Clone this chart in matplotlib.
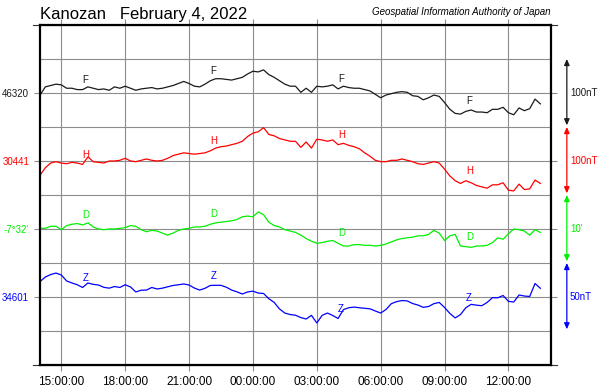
import matplotlib
matplotlib.use('Agg')
import matplotlib.pyplot as plt
import matplotlib.dates as mdates
import matplotlib.transforms as mtransforms
import pandas as pd

plt.rcParams['font.family'] = ['Liberation Sans', 'DejaVu Sans']

station = 'Kanozan'
day_title = 'February 4, 2022'
source = 'Geospatial Information Authority of Japan'

# 15 minute samples, 2022-02-03 14:00 .. 2022-02-04 13:30
times = pd.date_range('2022-02-03 14:00', periods=95, freq='15min')

# total force (nT)
F = [46317, 46329, 46331, 46333, 46332, 46327, 46327, 46325, 46325, 46329,
     46327, 46325, 46326, 46324, 46329, 46327, 46330, 46327, 46324, 46326,
     46327, 46328, 46326, 46327, 46329, 46331, 46334, 46337, 46334, 46330,
     46329, 46333, 46338, 46341, 46341, 46340, 46339, 46341, 46343, 46348,
     46352, 46351, 46354, 46347, 46343, 46338, 46333, 46330, 46330, 46321,
     46327, 46321, 46330, 46329, 46330, 46332, 46326, 46330, 46328, 46327,
     46327, 46325, 46323, 46318, 46313, 46317, 46319, 46321, 46322, 46321,
     46316, 46315, 46310, 46313, 46317, 46315, 46306, 46296, 46290, 46289,
     46293, 46295, 46292, 46292, 46291, 46296, 46296, 46299, 46291, 46288,
     46298, 46294, 46297, 46311, 46304]

# horizontal component (nT)
H = [30420, 30431, 30438, 30440, 30438, 30437, 30439, 30438, 30436, 30447,
     30440, 30439, 30438, 30441, 30441, 30442, 30445, 30441, 30440, 30442,
     30444, 30442, 30441, 30442, 30445, 30449, 30451, 30453, 30452, 30451,
     30452, 30453, 30456, 30460, 30462, 30463, 30465, 30467, 30470, 30477,
     30482, 30484, 30490, 30480, 30478, 30474, 30472, 30470, 30470, 30461,
     30469, 30460, 30473, 30472, 30470, 30472, 30465, 30467, 30464, 30462,
     30459, 30453, 30448, 30442, 30440, 30440, 30442, 30442, 30444, 30442,
     30440, 30437, 30436, 30438, 30440, 30438, 30429, 30419, 30412, 30408,
     30412, 30409, 30405, 30403, 30401, 30406, 30406, 30409, 30398, 30397,
     30407, 30399, 30400, 30413, 30408]

# declination (arc minutes, -7deg32' = -452')
D = [-451.9, -451.9, -451.6, -451.6, -452.1, -451.5, -451.3, -451.2, -451.4, -451.1,
     -451.7, -452.0, -452.1, -452.0, -452.0, -451.9, -451.8, -451.5, -451.6, -452.1,
     -452.4, -452.2, -452.3, -452.6, -452.9, -452.6, -452.2, -452.0, -451.9, -451.7,
     -451.7, -451.6, -451.3, -451.1, -451.0, -450.9, -450.8, -450.6, -450.2, -450.1,
     -450.2, -449.5, -449.9, -451.0, -451.5, -451.7, -452.1, -452.3, -452.5, -452.9,
     -453.4, -453.8, -454.1, -454.0, -453.8, -453.7, -454.1, -454.5, -454.5, -454.3,
     -454.3, -454.4, -454.4, -454.5, -454.4, -454.2, -453.9, -453.6, -453.4, -453.3,
     -453.2, -453.0, -453.0, -452.8, -452.2, -452.6, -453.7, -453.0, -452.8, -454.5,
     -454.6, -454.7, -454.5, -454.5, -454.4, -454.0, -453.3, -453.5, -452.7, -452.0,
     -452.1, -452.3, -452.9, -452.1, -452.5]

# vertical component (nT)
Z = [34612.3, 34615.7, 34617.5, 34618.6, 34617.2, 34612.8, 34611.3, 34610.0, 34608.0, 34611.3,
     34610.3, 34609.8, 34608.1, 34607.5, 34608.7, 34608.0, 34610.0, 34608.4, 34604.7, 34606.0,
     34606.1, 34608.0, 34606.9, 34607.5, 34608.5, 34609.5, 34610.0, 34610.6, 34609.8, 34607.6,
     34606.1, 34607.4, 34609.5, 34609.6, 34609.6, 34608.2, 34606.1, 34604.8, 34603.2, 34604.7,
     34605.3, 34603.9, 34603.6, 34599.7, 34597.0, 34592.2, 34589.2, 34588.1, 34587.6, 34585.9,
     34584.8, 34587.5, 34581.9, 34587.5, 34589.2, 34587.4, 34585.2, 34591.7, 34593.1, 34593.6,
     34593.1, 34592.7, 34592.3, 34590.7, 34589.2, 34591.8, 34596.1, 34597.6, 34598.4, 34598.1,
     34596.2, 34595.1, 34593.4, 34594.0, 34596.1, 34597.0, 34593.3, 34588.9, 34585.6, 34588.1,
     34593.1, 34595.6, 34595.0, 34594.6, 34597.0, 34600.5, 34600.4, 34602.1, 34597.8, 34597.3,
     34602.5, 34601.7, 34601.4, 34610.9, 34607.4]

names = ['F', 'H', 'D', 'Z']
series = [F, H, D, Z]
baselines = [46320, 30441, -452, 34601]
base_labels = ['46320', '30441', "-7\u00b032'", '34601']
full_scale = [100, 100, 10, 50]          # value spanned by two grid rows
scale_labels = ['100nT', '100nT', "10'", '50nT']
colors = ['#1a1a1a', '#ff0000', '#00f000', '#0000ff']
centers = [8, 6, 4, 2]                   # grid row of each baseline

label_times = pd.to_datetime(['2022-02-03 16:00', '2022-02-03 22:00',
                              '2022-02-04 04:00', '2022-02-04 10:00'])
tick_times = pd.date_range('2022-02-03 15:00', periods=8, freq='3h')

fig = plt.figure(figsize=(6.0, 3.91), dpi=100)
ax = fig.add_axes([40 / 600, 26 / 391, 511 / 600, 340 / 391])

grid_col = '#8c8c8c'
ax.set_xlim(pd.Timestamp('2022-02-03 14:00'), pd.Timestamp('2022-02-04 14:00'))
ax.set_ylim(0, 10)
ax.set_xticks(tick_times)
ax.xaxis.set_major_formatter(mdates.DateFormatter('%H:%M:%S'))
ax.set_yticks(centers, labels=base_labels)
ax.set_yticks([1, 3, 5, 7, 9], minor=True)
ax.set_axisbelow(True)
ax.xaxis.grid(True, which='major', color=grid_col, lw=0.8)
ax.yaxis.grid(True, which='both', color=grid_col, lw=0.8)
ax.tick_params(which='major', direction='out', length=4.3, width=0.8, color=grid_col,
               top=True, right=True)
ax.tick_params(which='minor', length=0)
ax.tick_params(axis='x', labelsize=8.5, pad=3.5)
ax.tick_params(axis='y', labelsize=7, pad=3.5)
for lab, c in zip(ax.get_yticklabels(), colors):
    lab.set_color(c)
for sp in ax.spines.values():
    sp.set_linewidth(1.6)
    sp.set_color('black')

# thin extensions of the top and bottom frame lines
for yy in (0, 1):
    ax.plot([-7 / 511, 1 + 6 / 511], [yy, yy], transform=ax.transAxes,
            color='#333333', lw=0.8, clip_on=False)

xy_trans = mtransforms.blended_transform_factory(ax.transAxes, ax.transData)

for name, vals, base, span, col, cen, slab in zip(names, series, baselines, full_scale,
                                                 colors, centers, scale_labels):
    y = [cen + (v - base) * 2.0 / span for v in vals]
    ax.plot(times, y, color=col, lw=0.9)
    for t in label_times:
        i = times.get_loc(t)
        ax.annotate(name, (times[i], y[i]), xytext=(0, 3.5), textcoords='offset points',
                    ha='left', va='bottom', fontsize=7, color=col)
    ax.annotate('', xy=(1.031, cen + 1.0), xytext=(1.031, cen - 0.95), xycoords=xy_trans,
                textcoords=xy_trans, annotation_clip=False,
                arrowprops=dict(arrowstyle='<|-|>,head_length=0.45,head_width=0.2',
                                color=col, lw=0.9, shrinkA=0, shrinkB=0, mutation_scale=8))
    ax.text(1.037, cen, slab, transform=xy_trans, ha='left', va='center',
            fontsize=7, color=col)

fig.text(40 / 600, 1 - 19.5 / 391, station + '   ' + day_title, fontsize=12,
         ha='left', va='baseline')
fig.text(551 / 600, 1 - 15 / 391, source, fontsize=7, style='italic',
         ha='right', va='baseline')

fig.savefig('out.png', dpi=100)
